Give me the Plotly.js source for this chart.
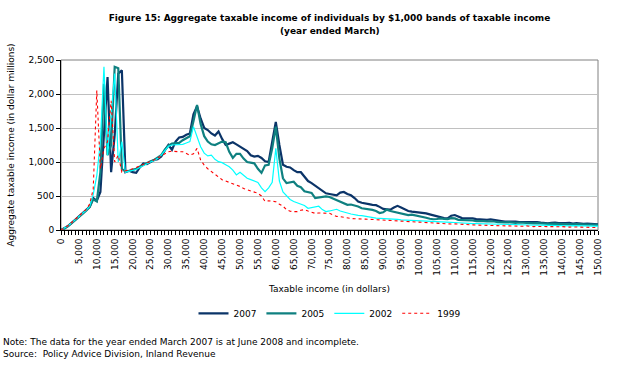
<!DOCTYPE html>
<html>
<head>
<meta charset="utf-8">
<script src="https://cdn.plot.ly/plotly-3.0.1.min.js"></script>
<style>
html,body{margin:0;padding:0;background:#fff;}
#chart{width:617px;height:372px;}
</style>
</head>
<body>
<div id="chart"></div>
<script>
// Income bands, in thousands of dollars
const bands = [0,1,2,3,4,5,6,7,8,9,10,11,12,13,14,15,16,17,18,19,20,21,22,23,24,25,26,27,28,29,30,31,32,33,34,35,36,37,38,39,40,41,42,43,44,45,46,47,48,49,50,51,52,53,54,55,56,57,58,59,60,61,62,63,64,65,66,67,68,69,70,71,72,73,74,75,76,77,78,79,80,81,82,83,84,85,86,87,88,89,90,91,92,93,94,95,96,97,98,99,100,101,102,103,104,105,106,107,108,109,110,111,112,113,114,115,116,117,118,119,120,121,122,123,124,125,126,127,128,129,130,131,132,133,134,135,136,137,138,139,140,141,142,143,144,145,146,147,148,149,150];

// Aggregate taxable income (dollar millions)
const y2007 = [0,25,60,105,150,195,240,290,340,470,430,560,1500,2250,850,1400,2300,2350,850,870,
  850,840,920,980,970,1000,1030,1040,1080,1170,1250,1180,1300,1360,1370,1400,1420,1700,1820,1640,
  1500,1470,1420,1390,1450,1340,1250,1270,1290,1260,1230,1200,1160,1100,1080,1090,1060,1010,1000,1300,
  1590,1250,960,930,920,880,850,850,780,720,690,650,610,570,540,530,515,510,550,560,
  530,510,470,420,400,395,380,370,365,340,310,305,300,330,355,330,300,280,270,265,
  255,250,245,230,215,200,195,175,170,210,220,200,175,170,175,170,160,155,148,150,
  155,150,140,130,122,125,120,122,118,120,122,115,120,118,110,100,98,105,110,100,
  95,100,105,95,100,92,90,95,88,85,83];

const y2005 = [0,22,58,100,145,190,235,285,335,450,420,850,2150,1100,1250,2400,2380,900,860,870,
  880,900,930,960,990,1010,1030,1060,1100,1180,1240,1270,1280,1280,1320,1350,1380,1600,1840,1560,
  1380,1300,1260,1250,1270,1300,1290,1150,1060,1120,1120,1050,1000,990,980,900,840,950,960,1200,
  1520,1050,760,690,700,710,650,630,570,560,545,470,480,490,495,485,460,440,420,390,
  370,375,365,345,320,315,300,295,280,250,260,300,280,270,255,240,230,220,225,215,
  210,195,180,165,158,162,170,165,160,175,170,150,148,145,150,140,130,135,130,128,
  130,125,115,110,112,115,108,105,110,105,108,100,98,102,95,92,90,95,92,88,
  90,85,88,82,86,80,82,78,80,76,75];

const y2002 = [0,25,62,105,150,195,240,290,345,520,800,1300,2400,1100,1700,2300,1000,1300,850,860,
  870,890,920,950,980,1000,1020,1050,1100,1160,1230,1250,1250,1250,1260,1280,1300,1520,1380,1225,
  1130,1090,1100,1040,1005,990,960,930,880,810,850,800,760,740,720,700,620,565,620,700,
  1200,720,560,500,450,420,400,390,360,320,330,345,350,300,270,280,290,305,280,270,
  250,235,220,215,210,200,195,185,175,172,170,172,168,160,155,150,147,145,140,132,
  128,125,122,120,118,115,112,110,110,112,110,105,102,100,98,95,94,92,90,88,
  90,85,84,82,80,82,80,78,76,75,78,74,72,70,72,70,68,70,66,65,
  68,64,62,65,62,60,62,58,60,57,58];

const y1999 = [0,28,65,110,155,200,250,300,380,600,2050,900,1200,1300,1900,1000,1100,850,870,880,
  900,920,940,960,990,1010,1030,1060,1090,1120,1150,1160,1150,1150,1150,1120,1100,1120,1200,1030,
  955,900,860,820,780,740,720,700,690,660,640,610,590,570,560,540,500,420,430,420,
  416,380,350,300,275,270,270,290,300,280,260,245,250,245,240,245,220,200,195,185,
  172,170,165,160,162,160,158,155,150,148,147,145,140,138,135,130,128,125,120,115,
  110,105,102,100,98,95,92,90,90,88,90,85,82,80,78,75,72,70,70,68,
  70,65,62,60,62,58,57,55,58,55,60,52,50,52,50,48,50,46,45,48,
  50,44,42,45,42,40,42,38,40,36,38];

const seriesNames = ["2007","2005","2002","1999"];
const tickVals = [0,5,10,15,20,25,30,35,40,45,50,55,60,65,70,75,80,85,90,95,100,105,110,115,120,125,130,135,140,145,150];
const tickLabels = ["0","5,000","10,000","15,000","20,000","25,000","30,000","35,000","40,000","45,000","50,000","55,000","60,000","65,000","70,000","75,000","80,000","85,000","90,000","95,000","100,000","105,000","110,000","115,000","120,000","125,000","130,000","135,000","140,000","145,000","150,000"];

const FONT = "Verdana, 'DejaVu Sans', sans-serif";

const traces = [
  {x: bands, y: y2007, name: seriesNames[0], type: "scatter", mode: "lines",
   line: {color: "#0b3468", width: 2.2}},
  {x: bands, y: y2005, name: seriesNames[1], type: "scatter", mode: "lines",
   line: {color: "#0f8080", width: 2.2}},
  {x: bands, y: y2002, name: seriesNames[2], type: "scatter", mode: "lines",
   line: {color: "#00ffff", width: 1.2}},
  {x: bands, y: y1999, name: seriesNames[3], type: "scatter", mode: "lines",
   line: {color: "#ff0000", width: 1.1, dash: "dot"}}
];

const layout = {
  width: 617, height: 372,
  paper_bgcolor: "#ffffff", plot_bgcolor: "#ffffff",
  margin: {l: 61, r: 19, t: 60, b: 142},
  font: {family: FONT, size: 9, color: "#000"},
  title: {
    text: "<b>Figure 15: Aggregate taxable income of individuals by $1,000 bands of taxable income</b>",
    font: {family: FONT, size: 9, color: "#000"},
    x: 0.5, xref: "paper", y: 0.952, yref: "container", xanchor: "center", yanchor: "middle"
  },
  showlegend: true,
  legend: {orientation: "h", x: 0.5, xanchor: "center", y: -0.49, yanchor: "middle",
    font: {family: FONT, size: 9, color: "#000"}, itemwidth: 30, tracegroupgap: 0,
    traceorder: "normal"},
  xaxis: {
    range: [0, 150], fixedrange: true,
    tickmode: "array", tickvals: tickVals, ticktext: tickLabels, tickangle: -90,
    ticks: "outside", ticklen: 4, tickcolor: "#000", tickwidth: 1,
    minor: {dtick: 1, ticks: "outside", ticklen: 4, tickcolor: "#000", showgrid: false},
    showline: true, linecolor: "#000", linewidth: 1,
    showgrid: false, zeroline: false,
    tickfont: {family: FONT, size: 9, color: "#000"},
    title: {text: "Taxable income (in dollars)", font: {family: FONT, size: 9, color: "#000"}, standoff: 10}
  },
  yaxis: {
    range: [0, 2500], fixedrange: true,
    tickmode: "array", tickvals: [0,500,1000,1500,2000,2500],
    ticktext: ["0","500","1,000","1,500","2,000","2,500"],
    ticks: "outside", ticklen: 4, tickcolor: "#000",
    showline: true, linecolor: "#000", linewidth: 1,
    showgrid: true, gridcolor: "#c0c0c0", gridwidth: 1, zeroline: false,
    tickfont: {family: FONT, size: 9, color: "#000"},
    title: {text: "Aggregate taxable income (in dollar millions)", font: {family: FONT, size: 9, color: "#000"}, standoff: 12}
  },
  shapes: [
    {type: "rect", xref: "paper", yref: "paper", x0: 0, x1: 1, y0: 0, y1: 1,
     line: {color: "#808080", width: 1}, layer: "below"}
  ],
  annotations: [
    {text: "<b>(year ended March)</b>",
     xref: "paper", yref: "paper", x: 0.5, y: 1.171, xanchor: "center", yanchor: "middle",
     showarrow: false, font: {family: FONT, size: 9, color: "#000"}},
    {text: "Note: The data for the year ended March 2007 is at June 2008 and incomplete.",
     xref: "paper", yref: "paper", x: -0.112, y: -0.66, xanchor: "left", yanchor: "middle",
     showarrow: false, font: {family: FONT, size: 9, color: "#000"}},
    {text: "Source:  Policy Advice Division, Inland Revenue",
     xref: "paper", yref: "paper", x: -0.112, y: -0.73, xanchor: "left", yanchor: "middle",
     showarrow: false, font: {family: FONT, size: 9, color: "#000"}}
  ]
};

Plotly.newPlot("chart", traces, layout, {displayModeBar: false, staticPlot: true});
</script>
</body>
</html>
